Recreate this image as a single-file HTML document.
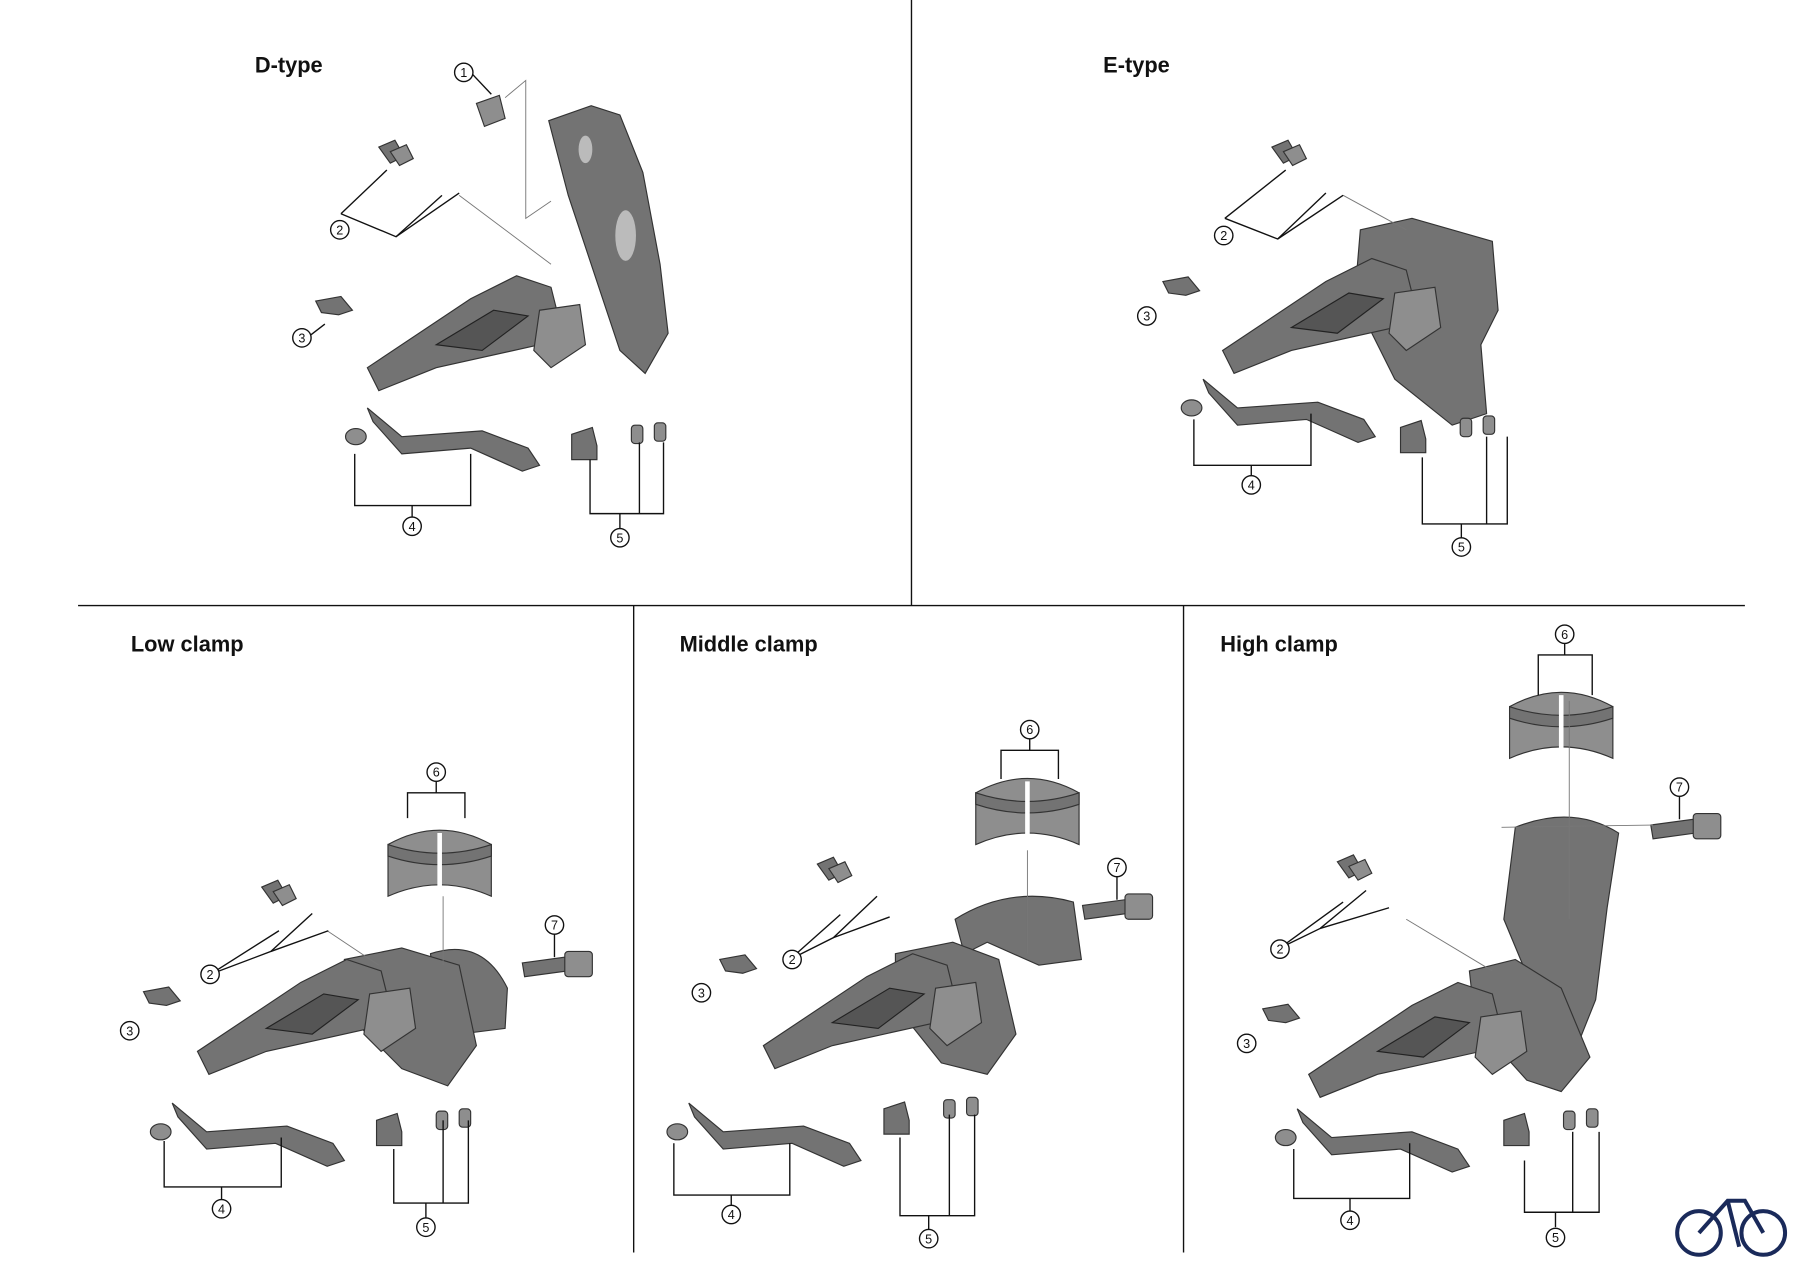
<!DOCTYPE html>
<html><head><meta charset="utf-8"><style>
html,body{margin:0;padding:0;background:#fff;width:1800px;height:1272px;overflow:hidden}
svg{display:block}
text{font-family:"Liberation Sans",sans-serif}
.t{font-size:19px;font-weight:bold;fill:#111}
.n{font-size:11px;fill:#111;text-anchor:middle}
.c{fill:#fff;stroke:#111;stroke-width:1.2}
.l{stroke:#111;stroke-width:1.2;fill:none}
.th{stroke:#777;stroke-width:0.8;fill:none}
.g{fill:#737373;stroke:#333;stroke-width:1}
.g2{fill:#8e8e8e;stroke:#333;stroke-width:1}
.g3{fill:#555;stroke:#222;stroke-width:1}
</style></head><body>
<svg width="1800" height="1272" viewBox="0 0 1568 1107" preserveAspectRatio="none">
<defs>
<g id="cage">
 <path class="g" d="M0 40 L90 -20 L130 -40 L160 -30 L170 10 L150 20 L60 40 L10 60 Z"/>
 <path class="g3" d="M60 20 L110 -10 L140 -5 L100 25 Z"/>
 <path class="g2" d="M150 -10 L185 -15 L190 20 L160 40 L145 25 Z"/>
</g>
<g id="arm">
 <path class="g" d="M10 0 L40 25 L110 20 L150 35 L160 50 L145 55 L100 35 L40 40 L15 12 Z"/>
 <ellipse class="g2" cx="0" cy="25" rx="9" ry="7"/>
</g>
<g id="pad"><path class="g" d="M0 0 L22 -4 L32 8 L20 12 L5 10 Z"/></g>
<g id="bolt"><path class="g" d="M0 0 L14 -6 L22 8 L10 14 Z"/><path class="g2" d="M10 4 L24 -2 L30 10 L18 16 Z"/></g>
<g id="five">
 <path class="g" d="M0 0 L18 -6 L22 10 L22 22 L0 22 Z"/>
 <rect class="g2" x="52" y="-8" width="10" height="16" rx="3"/>
 <rect class="g2" x="72" y="-10" width="10" height="16" rx="3"/>
</g>
<g id="clamp">
 <path class="g2" d="M0 10 Q45 -15 90 10 L90 55 Q45 35 0 55 Z"/>
 <path class="g" d="M0 10 Q45 25 90 10 L90 20 Q45 35 0 20 Z"/>
 <line x1="45" y1="0" x2="45" y2="60" stroke="#fff" stroke-width="4"/>
</g>
</defs>

<line class="l" x1="794" y1="0" x2="794" y2="527" stroke-width="1.5"/>
<line class="l" x1="68" y1="527" x2="1520" y2="527" stroke-width="1.5"/>
<line class="l" x1="552" y1="527" x2="552" y2="1090" stroke-width="1.5"/>
<line class="l" x1="1031" y1="527" x2="1031" y2="1090" stroke-width="1.5"/>

<text class="t" x="222" y="63">D-type</text>
<text class="t" x="961" y="63">E-type</text>
<text class="t" x="114" y="567">Low clamp</text>
<text class="t" x="592" y="567">Middle clamp</text>
<text class="t" x="1063" y="567">High clamp</text>

<!-- D-type -->
<path class="g" d="M478 105 L515 92 L540 100 L560 150 L575 230 L582 290 L562 325 L540 305 L520 245 L495 170 Z"/>
<ellipse cx="545" cy="205" rx="9" ry="22" fill="#bbb"/>
<ellipse cx="510" cy="130" rx="6" ry="12" fill="#bbb"/>
<use href="#cage" x="320" y="280"/>
<use href="#pad" x="275" y="262"/>
<use href="#arm" x="310" y="355"/>
<use href="#five" x="498" y="378"/>
<path class="g2" d="M415 90 L435 83 L440 103 L422 110 Z"/>
<use href="#bolt" x="330" y="128"/>
<polyline class="th" points="440,85 458,70 458,190 480,175"/>
<line class="th" x1="400" y1="170" x2="480" y2="230"/>
<polyline class="l" points="297,186 337,148"/><polyline class="l" points="297,186 345,206 385,170"/><polyline class="l" points="345,206 400,168"/>
<polyline class="l" points="309,395 309,440 410,440 410,395"/><line class="l" x1="359" y1="440" x2="359" y2="450"/>
<polyline class="l" points="514,400 514,447 578,447 578,385"/><line class="l" x1="557" y1="447" x2="557" y2="385"/><line class="l" x1="540" y1="447" x2="540" y2="460"/>
<line class="l" x1="411" y1="64" x2="428" y2="82"/>
<line class="l" x1="270" y1="292" x2="283" y2="282"/>
<circle class="c" cx="404" cy="63" r="8"/><text class="n" x="404" y="67">1</text>
<circle class="c" cx="296" cy="200" r="8"/><text class="n" x="296" y="204">2</text>
<circle class="c" cx="263" cy="294" r="8"/><text class="n" x="263" y="298">3</text>
<circle class="c" cx="359" cy="458" r="8"/><text class="n" x="359" y="462">4</text>
<circle class="c" cx="540" cy="468" r="8"/><text class="n" x="540" y="472">5</text>

<!-- E-type -->
<path class="g" d="M1185 200 L1230 190 L1300 210 L1305 270 L1290 300 L1295 360 L1265 370 L1215 330 L1180 260 Z"/>
<use href="#cage" x="1065" y="265"/>
<use href="#pad" x="1013" y="245"/>
<use href="#arm" x="1038" y="330"/>
<use href="#five" x="1220" y="372"/>
<use href="#bolt" x="1108" y="128"/>
<line class="th" x1="1170" y1="170" x2="1225" y2="200"/>
<polyline class="l" points="1067,190 1120,148"/><polyline class="l" points="1067,190 1113,208 1155,168"/><polyline class="l" points="1113,208 1170,170"/>
<polyline class="l" points="1040,365 1040,405 1142,405 1142,360"/><line class="l" x1="1090" y1="405" x2="1090" y2="414"/>
<polyline class="l" points="1239,398 1239,456 1313,456 1313,380"/><line class="l" x1="1295" y1="456" x2="1295" y2="380"/><line class="l" x1="1273" y1="456" x2="1273" y2="468"/>
<circle class="c" cx="1066" cy="205" r="8"/><text class="n" x="1066" y="209">2</text>
<circle class="c" cx="999" cy="275" r="8"/><text class="n" x="999" y="279">3</text>
<circle class="c" cx="1090" cy="422" r="8"/><text class="n" x="1090" y="426">4</text>
<circle class="c" cx="1273" cy="476" r="8"/><text class="n" x="1273" y="480">5</text>

<!-- Low clamp -->
<path class="g" d="M375 830 Q420 815 442 860 L440 895 L400 900 L380 870 Z"/>
<path class="g" d="M300 835 L350 825 L400 840 L415 910 L390 945 L350 930 L300 880 Z"/>
<use href="#cage" x="172" y="875"/>
<use href="#pad" x="125" y="863"/>
<use href="#arm" x="140" y="960"/>
<use href="#five" x="328" y="975"/>
<use href="#clamp" x="338" y="725"/>
<path class="g" d="M455 838 L492 833 L494 845 L457 850 Z"/><rect class="g2" x="492" y="828" width="24" height="22" rx="3"/>
<use href="#bolt" x="228" y="772"/>
<line class="th" x1="386" y1="780" x2="386" y2="840"/>
<line class="th" x1="285" y1="810" x2="330" y2="840"/>
<polyline class="l" points="183,848 243,810"/><polyline class="l" points="183,848 236,828 272,795"/><polyline class="l" points="236,828 286,810"/>
<polyline class="l" points="355,712 355,690 405,690 405,712"/><line class="l" x1="380" y1="690" x2="380" y2="680"/>
<line class="l" x1="483" y1="813" x2="483" y2="833"/>
<polyline class="l" points="143,993 143,1033 245,1033 245,990"/><line class="l" x1="193" y1="1033" x2="193" y2="1044"/>
<polyline class="l" points="343,1000 343,1047 408,1047 408,975"/><line class="l" x1="386" y1="1047" x2="386" y2="975"/><line class="l" x1="371" y1="1047" x2="371" y2="1060"/>
<circle class="c" cx="380" cy="672" r="8"/><text class="n" x="380" y="676">6</text>
<circle class="c" cx="483" cy="805" r="8"/><text class="n" x="483" y="809">7</text>
<circle class="c" cx="183" cy="848" r="8"/><text class="n" x="183" y="852">2</text>
<circle class="c" cx="113" cy="897" r="8"/><text class="n" x="113" y="901">3</text>
<circle class="c" cx="193" cy="1052" r="8"/><text class="n" x="193" y="1056">4</text>
<circle class="c" cx="371" cy="1068" r="8"/><text class="n" x="371" y="1072">5</text>

<!-- Middle clamp -->
<path class="g" d="M832 800 Q880 770 935 785 L942 835 L905 840 L860 820 L840 830 Z"/>
<path class="g" d="M780 830 L830 820 L870 835 L885 900 L860 935 L820 925 L780 875 Z"/>
<use href="#cage" x="665" y="870"/>
<use href="#pad" x="627" y="835"/>
<use href="#arm" x="590" y="960"/>
<use href="#five" x="770" y="965"/>
<use href="#clamp" x="850" y="680"/>
<path class="g" d="M943 788 L980 783 L982 795 L945 800 Z"/><rect class="g2" x="980" y="778" width="24" height="22" rx="3"/>
<use href="#bolt" x="712" y="752"/>
<line class="th" x1="895" y1="740" x2="895" y2="830"/>
<polyline class="l" points="688,835 732,796"/><polyline class="l" points="688,835 726,816 764,780"/><polyline class="l" points="726,816 775,798"/>
<polyline class="l" points="872,678 872,653 922,653 922,678"/><line class="l" x1="897" y1="653" x2="897" y2="643"/>
<line class="l" x1="973" y1="763" x2="973" y2="783"/>
<polyline class="l" points="587,995 587,1040 688,1040 688,995"/><line class="l" x1="637" y1="1040" x2="637" y2="1049"/>
<polyline class="l" points="784,990 784,1058 849,1058 849,970"/><line class="l" x1="827" y1="1058" x2="827" y2="970"/><line class="l" x1="809" y1="1058" x2="809" y2="1070"/>
<circle class="c" cx="897" cy="635" r="8"/><text class="n" x="897" y="639">6</text>
<circle class="c" cx="973" cy="755" r="8"/><text class="n" x="973" y="759">7</text>
<circle class="c" cx="690" cy="835" r="8"/><text class="n" x="690" y="839">2</text>
<circle class="c" cx="611" cy="864" r="8"/><text class="n" x="611" y="868">3</text>
<circle class="c" cx="637" cy="1057" r="8"/><text class="n" x="637" y="1061">4</text>
<circle class="c" cx="809" cy="1078" r="8"/><text class="n" x="809" y="1082">5</text>

<!-- High clamp -->
<path class="g" d="M1320 720 Q1370 700 1410 725 L1400 790 L1390 870 L1370 920 L1345 910 L1335 860 L1310 800 Z"/>
<path class="g" d="M1280 845 L1320 835 L1360 860 L1385 920 L1360 950 L1330 940 L1285 890 Z"/>
<use href="#cage" x="1140" y="895"/>
<use href="#pad" x="1100" y="878"/>
<use href="#arm" x="1120" y="965"/>
<use href="#five" x="1310" y="975"/>
<use href="#clamp" x="1315" y="605"/>
<path class="g" d="M1438 718 L1475 713 L1477 725 L1440 730 Z"/><rect class="g2" x="1475" y="708" width="24" height="22" rx="3"/>
<use href="#bolt" x="1165" y="750"/>
<line class="th" x1="1367" y1="610" x2="1367" y2="800"/>
<line class="th" x1="1308" y1="720" x2="1440" y2="718"/>
<line class="th" x1="1225" y1="800" x2="1300" y2="845"/>
<polyline class="l" points="1115,825 1170,785"/><polyline class="l" points="1115,825 1150,808 1190,775"/><polyline class="l" points="1150,808 1210,790"/>
<polyline class="l" points="1340,605 1340,570 1387,570 1387,605"/><line class="l" x1="1363" y1="570" x2="1363" y2="560"/>
<line class="l" x1="1463" y1="693" x2="1463" y2="713"/>
<polyline class="l" points="1127,1000 1127,1043 1228,1043 1228,995"/><line class="l" x1="1176" y1="1043" x2="1176" y2="1054"/>
<polyline class="l" points="1328,1010 1328,1055 1393,1055 1393,985"/><line class="l" x1="1370" y1="1055" x2="1370" y2="985"/><line class="l" x1="1355" y1="1055" x2="1355" y2="1068"/>
<circle class="c" cx="1363" cy="552" r="8"/><text class="n" x="1363" y="556">6</text>
<circle class="c" cx="1463" cy="685" r="8"/><text class="n" x="1463" y="689">7</text>
<circle class="c" cx="1115" cy="826" r="8"/><text class="n" x="1115" y="830">2</text>
<circle class="c" cx="1086" cy="908" r="8"/><text class="n" x="1086" y="912">3</text>
<circle class="c" cx="1176" cy="1062" r="8"/><text class="n" x="1176" y="1066">4</text>
<circle class="c" cx="1355" cy="1077" r="8"/><text class="n" x="1355" y="1081">5</text>

<g fill="none" stroke="#1a2a5a" stroke-width="3.5">
<circle cx="1480" cy="1073" r="19"/><circle cx="1536" cy="1073" r="19"/>
<polyline points="1480,1073 1505,1045 1520,1045 1536,1073"/><line x1="1505" y1="1045" x2="1515" y2="1085"/>
</g>
</svg>
</body></html>
